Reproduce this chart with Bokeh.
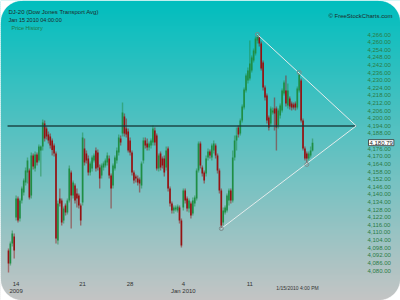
import numpy as np
from bokeh.plotting import figure
from bokeh.models import Range1d
from bokeh.core.properties import value
from bokeh.embed import file_html
from bokeh.resources import INLINE

# ---------------- data (hourly bars, DJ-20, Dec 11 2009 - Jan 15 2010) ----------------
opens = [
    4095.8, 4085.6, 4101.3, 4106.8,
    4121.8, 4136.8, 4121.0, 4135.2, 4141.5, 4149.4, 4157.3,
    4158.8, 4139.1, 4170.7, 4160.4, 4171.5, 4166.7, 4174.6,
    4177.8, 4195.9, 4191.9, 4187.2, 4185.6, 4182.5, 4178.5,
    4172.2, 4103.7, 4136.8, 4135.2, 4119.4, 4131.3, 4125.7,
    4135.2, 4157.3, 4139.1, 4147.0, 4140.7, 4139.1, 4131.3,
    4133.6, 4176.2, 4172.2, 4168.3, 4157.3, 4160.4, 4166.7,
    4174.6, 4173.0, 4161.2, 4154.9, 4161.2, 4162.8, 4165.1,
    4168.3, 4154.9, 4147.0, 4160.4, 4166.7, 4173.0, 4184.1,
    4188.0, 4201.4, 4191.9, 4189.6,
    4182.5, 4173.0, 4157.3, 4154.1, 4152.5, 4151.7, 4147.0,
    4166.7, 4182.5, 4180.1, 4177.0, 4178.5, 4180.9, 4190.4,
    4186.4, 4160.4, 4172.2, 4168.3, 4168.3, 4161.2, 4176.2,
    4144.7, 4132.8, 4127.3, 4128.1, 4127.3, 4129.7, 4119.4,
    4129.7, 4143.1, 4136.8, 4128.9, 4132.8, 4124.9, 4132.8,
    4136.8, 4158.8, 4180.1, 4161.2, 4157.3, 4156.5, 4169.1,
    4173.8, 4169.1, 4174.6, 4178.5, 4170.7, 4158.8, 4143.1,
    4117.9, 4125.7, 4127.3, 4135.2, 4143.1, 4135.2, 4169.1,
    4182.5, 4192.7, 4188.0, 4198.2, 4208.5, 4221.9, 4229.8,
    4231.3, 4237.6, 4245.5, 4251.0, 4261.3, 4263.6, 4258.9,
    4243.9, 4224.2, 4217.9, 4200.6, 4195.9, 4204.5, 4207.7,
    4207.7, 4194.3, 4202.2, 4206.1, 4219.5, 4221.9, 4210.1,
    4215.6, 4211.6, 4210.8, 4211.6, 4208.5, 4221.9, 4229.8,
    4198.2, 4176.2, 4172.2, 4168.3, 4170.7, 4174.6,
]
closes = [
    4085.6, 4101.3, 4109.2, 4095.8,
    4136.8, 4119.4, 4135.2, 4144.7, 4151.0, 4158.8, 4166.7,
    4137.6, 4170.7, 4162.0, 4171.5, 4165.1, 4177.8, 4177.8,
    4196.7, 4184.1, 4185.6, 4182.5, 4178.5, 4175.0, 4172.2,
    4105.3, 4132.8, 4132.8, 4117.9, 4128.9, 4125.7, 4135.2,
    4160.4, 4139.1, 4149.4, 4135.2, 4136.8, 4131.3, 4119.4,
    4184.8, 4165.1, 4166.7, 4157.3, 4164.4, 4169.1, 4170.7,
    4160.4, 4161.2, 4152.5, 4162.8, 4164.4, 4166.7, 4170.7,
    4154.9, 4144.7, 4162.8, 4169.1, 4174.6, 4184.8, 4180.9,
    4204.5, 4188.0, 4187.2, 4174.6,
    4173.0, 4157.3, 4151.0, 4152.5, 4149.4, 4148.6, 4164.4,
    4182.5, 4178.5, 4177.0, 4180.1, 4182.5, 4191.9, 4180.9,
    4160.4, 4170.7, 4161.2, 4162.8, 4157.3, 4174.6, 4144.7,
    4132.8, 4127.3, 4129.7, 4129.7, 4130.5, 4119.4, 4099.7,
    4143.1, 4135.2, 4128.9, 4135.2, 4123.4, 4135.2, 4137.6,
    4158.8, 4180.1, 4162.8, 4156.5, 4151.0, 4168.3, 4173.8,
    4170.7, 4178.5, 4180.1, 4170.7, 4158.8, 4143.1, 4115.5,
    4127.3, 4129.7, 4139.1, 4143.1, 4135.2, 4169.1, 4182.5,
    4186.4, 4187.2, 4198.2, 4209.3, 4222.7, 4233.7, 4237.6,
    4243.2, 4247.9, 4253.4, 4262.9, 4264.4, 4258.9, 4239.2,
    4224.2, 4216.4, 4198.2, 4192.7, 4207.7, 4206.1, 4203.8,
    4192.7, 4206.1, 4210.1, 4221.9, 4228.2, 4211.6, 4221.9,
    4209.3, 4208.5, 4208.5, 4208.5, 4223.5, 4235.3, 4198.2,
    4176.2, 4168.3, 4168.3, 4172.2, 4174.6, 4180.79,
]
highs = [
    4097.4, 4102.9, 4111.6, 4109.2,
    4139.1, 4138.4, 4136.8, 4146.2, 4152.5, 4161.2, 4169.1,
    4160.4, 4173.0, 4172.2, 4173.8, 4173.0, 4179.3, 4178.5,
    4199.0, 4198.2, 4193.5, 4189.6, 4188.0, 4184.1, 4180.1,
    4173.8, 4135.2, 4144.7, 4136.8, 4130.5, 4132.8, 4136.8,
    4162.8, 4158.8, 4151.0, 4148.6, 4144.7, 4140.7, 4132.8,
    4188.8, 4184.1, 4174.6, 4170.7, 4165.9, 4170.7, 4172.2,
    4177.0, 4175.4, 4163.6, 4164.4, 4165.9, 4168.3, 4173.0,
    4170.7, 4156.5, 4164.4, 4170.7, 4177.0, 4187.2, 4186.4,
    4212.4, 4203.8, 4199.8, 4191.9,
    4184.8, 4174.6, 4158.8, 4155.7, 4154.9, 4153.3, 4165.9,
    4184.8, 4184.8, 4184.1, 4181.7, 4184.1, 4194.3, 4192.7,
    4188.0, 4172.2, 4173.8, 4169.9, 4170.7, 4177.8, 4177.8,
    4146.2, 4134.4, 4131.3, 4131.3, 4132.0, 4131.3, 4121.0,
    4144.7, 4144.7, 4138.4, 4136.8, 4134.4, 4137.6, 4139.1,
    4160.4, 4181.7, 4181.7, 4162.8, 4158.8, 4170.7, 4176.2,
    4175.4, 4180.1, 4182.5, 4180.1, 4172.2, 4160.4, 4144.7,
    4129.7, 4131.3, 4140.7, 4144.7, 4144.7, 4174.6, 4186.4,
    4192.7, 4194.3, 4199.8, 4210.9, 4224.2, 4235.3, 4240.0,
    4261.3, 4249.5, 4255.0, 4264.4, 4266.0, 4265.2, 4260.5,
    4245.5, 4225.8, 4219.5, 4202.2, 4209.3, 4208.5, 4216.4,
    4209.3, 4207.7, 4211.6, 4223.5, 4229.8, 4233.7, 4227.4,
    4217.2, 4213.2, 4212.4, 4213.2, 4225.0, 4236.1, 4231.3,
    4199.8, 4177.8, 4173.8, 4173.8, 4177.8, 4184.1,
]
lows = [
    4078.5, 4084.0, 4099.0, 4089.5,
    4119.4, 4117.9, 4118.7, 4132.8, 4139.1, 4147.0, 4148.6,
    4136.0, 4136.8, 4159.6, 4158.1, 4162.8, 4165.1, 4154.1,
    4174.6, 4181.7, 4183.3, 4180.1, 4176.2, 4170.7, 4169.9,
    4101.3, 4100.5, 4130.5, 4115.5, 4117.1, 4123.4, 4124.2,
    4133.6, 4113.1, 4136.8, 4132.8, 4129.7, 4128.9, 4115.5,
    4131.3, 4162.8, 4164.4, 4154.9, 4154.9, 4158.1, 4165.1,
    4158.1, 4158.8, 4144.7, 4152.5, 4158.8, 4161.2, 4162.8,
    4152.5, 4128.9, 4144.7, 4158.8, 4164.4, 4170.7, 4178.5,
    4185.6, 4185.6, 4184.8, 4173.0,
    4170.7, 4154.9, 4148.6, 4149.4, 4147.0, 4141.5, 4144.7,
    4164.4, 4176.2, 4174.6, 4174.6, 4176.2, 4178.5, 4178.5,
    4158.8, 4158.1, 4158.8, 4160.4, 4154.1, 4158.8, 4142.3,
    4130.5, 4124.9, 4124.9, 4126.5, 4125.7, 4117.1, 4098.2,
    4127.3, 4132.8, 4126.5, 4125.7, 4121.0, 4123.4, 4130.5,
    4135.2, 4157.3, 4160.4, 4154.1, 4148.6, 4154.1, 4166.7,
    4168.3, 4166.7, 4172.2, 4168.3, 4156.5, 4140.7, 4113.1,
    4115.5, 4124.2, 4125.7, 4131.3, 4132.8, 4133.6, 4166.7,
    4174.6, 4184.8, 4186.4, 4196.7, 4206.9, 4220.3, 4227.4,
    4229.8, 4236.1, 4243.9, 4249.5, 4258.9, 4256.5, 4237.6,
    4221.9, 4214.0, 4195.9, 4190.4, 4193.5, 4203.0, 4190.4,
    4174.6, 4191.9, 4199.8, 4204.5, 4217.9, 4209.3, 4207.7,
    4206.9, 4206.1, 4206.9, 4206.1, 4206.9, 4220.3, 4196.7,
    4174.6, 4166.7, 4163.6, 4166.7, 4169.1, 4173.8,
]

# session starts (bar index) and their date labels
day_start_bars = [4, 39, 64, 92, 127]
day_labels = ["14", "21", "28", "4", "11"]
period_labels = ["2009", "", "", "Jan 2010", ""]

# price axis tick labels (4,182.00 is hidden behind the last-price flag)
price_ticks = [4080, 4086, 4092, 4098, 4104, 4110, 4116, 4122, 4128, 4134, 4140,
               4146, 4152, 4158, 4164, 4170, 4176, 4188, 4194, 4200, 4206,
               4212, 4218, 4224, 4230, 4236, 4242, 4248, 4254, 4260, 4266]
price_tick_labels = ["{:,.2f}".format(v) for v in price_ticks]

# drawn studies
resistance_level = 4194.0
apex_bar = 183
apex_price = 4194.0
upper_pivots = [131, 153]   # bars whose highs define the falling line
lower_pivots = [112, 157]   # bars whose lows define the rising line
last_price_label = "4,180.79"

# ---------------- figure ----------------
W, H = 400, 300
p = figure(width=W, height=H, x_range=Range1d(-4.21, 206.3), y_range=Range1d(4056.4, 4292.8),
           x_axis_type=None, y_axis_type=None, toolbar_location=None, output_backend="svg",
           min_border=0, outline_line_color=None,
           background_fill_color="white", border_fill_color="white")
p.extra_x_ranges = {"px": Range1d(0, W)}
p.extra_y_ranges = {"py": Range1d(H, 0)}

# background gradient teal -> gray
nstrip = 150
tops = np.linspace(0, H, nstrip + 1)
cols = []
for k in range(nstrip):
    t = (k + 0.5) / nstrip
    r = int(round(0 + 196 * t))
    g = int(round(190 + 6 * t))
    b = int(round(190 + 6 * t))
    cols.append("#%02x%02x%02x" % (r, g, b))
p.quad(left=0, right=W, top=tops[:-1], bottom=tops[1:] + 0.5, fill_color=cols, line_color=None,
       x_range_name="px", y_range_name="py")

# rounded white corners
R = 22
th = np.linspace(0, np.pi / 2, 20)
cxs, cys = [], []
for (ox, oy, sx, sy) in [(0, 0, 1, 1), (W, 0, -1, 1), (0, H, 1, -1), (W, H, -1, -1)]:
    ccx, ccy = ox + sx * R, oy + sy * R
    cxs.append([ox] + list(ccx - sx * R * np.cos(th)) + [ox])
    cys.append([oy] + list(ccy - sy * R * np.sin(th)) + [oy])
p.patches(cxs, cys, fill_color="white", line_color="white", line_width=0.5,
          x_range_name="px", y_range_name="py")

# ---------------- candles ----------------
idx = list(range(len(closes)))
up_col, dn_col = "#1f8e44", "#951212"
colors = [up_col if c >= o else dn_col for o, c in zip(opens, closes)]
p.segment(x0=idx, y0=highs, x1=idx, y1=lows, line_color=colors, line_alpha=0.5, line_width=1.4)
p.vbar(x=idx, width=0.85, top=[max(o, c) for o, c in zip(opens, closes)],
       bottom=[min(o, c) for o, c in zip(opens, closes)], fill_color=colors, line_color=None)

# ---------------- studies ----------------
p.segment(x0=[-0.5], y0=[resistance_level], x1=[apex_bar], y1=[resistance_level],
          line_color="#173a3a", line_width=1.5, line_alpha=0.9)
p.line(x=[upper_pivots[0], apex_bar], y=[highs[upper_pivots[0]], apex_price], line_color="#e4ecec", line_width=1)
p.line(x=[lower_pivots[0], apex_bar], y=[lows[lower_pivots[0]], apex_price], line_color="#e4ecec", line_width=1)
p.scatter(x=upper_pivots + lower_pivots,
          y=[highs[i] for i in upper_pivots] + [lows[i] for i in lower_pivots],
          marker="circle", size=4, fill_color=None, line_color="#7c8c8c", line_width=1)

# ---------------- texts ----------------
FONT = value("Liberation Sans")
p.text(x=[367] * len(price_ticks), y=price_ticks, text=price_tick_labels, x_range_name="px",
       text_font=FONT, text_font_size="6px", text_color="#2c7c44", text_baseline="middle", text_align="left")
p.text(x=[368], y=[closes[-1]], text=[last_price_label], x_range_name="px",
       text_font=FONT, text_font_size="6px", text_color="#222222", text_baseline="middle", text_align="left",
       background_fill_color="white", border_line_color="#333333", border_line_width=0.8, padding=1)

p.text(x=day_start_bars, y=[283] * len(day_labels), text=day_labels, y_range_name="py",
       text_font=FONT, text_font_size="6px", text_color="#333333", text_baseline="middle", text_align="center")
p.text(x=day_start_bars, y=[290.5] * len(period_labels), text=period_labels, y_range_name="py",
       text_font=FONT, text_font_size="6px", text_color="#333333", text_baseline="middle", text_align="center")

p.text(x=[8], y=[11], text=["DJ-20 (Dow Jones Transport Avg)"], x_range_name="px", y_range_name="py",
       text_font=FONT, text_font_size="6px", text_color="#1e2a2a", text_baseline="middle")
p.text(x=[8], y=[19], text=["Jan 15 2010 04:00:00"], x_range_name="px", y_range_name="py",
       text_font=FONT, text_font_size="5.5px", text_color="#1e2a2a", text_baseline="middle")
p.text(x=[11], y=[27.5], text=["Price History"], x_range_name="px", y_range_name="py",
       text_font=FONT, text_font_size="5.5px", text_color="#1f7a46", text_baseline="middle")
p.text(x=[392], y=[15], text=["\u00a9 FreeStockCharts.com"], x_range_name="px", y_range_name="py",
       text_font=FONT, text_font_size="6px", text_color="#1e2a2a", text_baseline="middle", text_align="right")
p.text(x=[297], y=[287], text=["1/15/2010 4:00 PM"], x_range_name="px", y_range_name="py",
       text_font=FONT, text_font_size="5px", text_color="#333333", text_baseline="middle", text_align="center")

open("out.html", "w").write(file_html(p, INLINE))
